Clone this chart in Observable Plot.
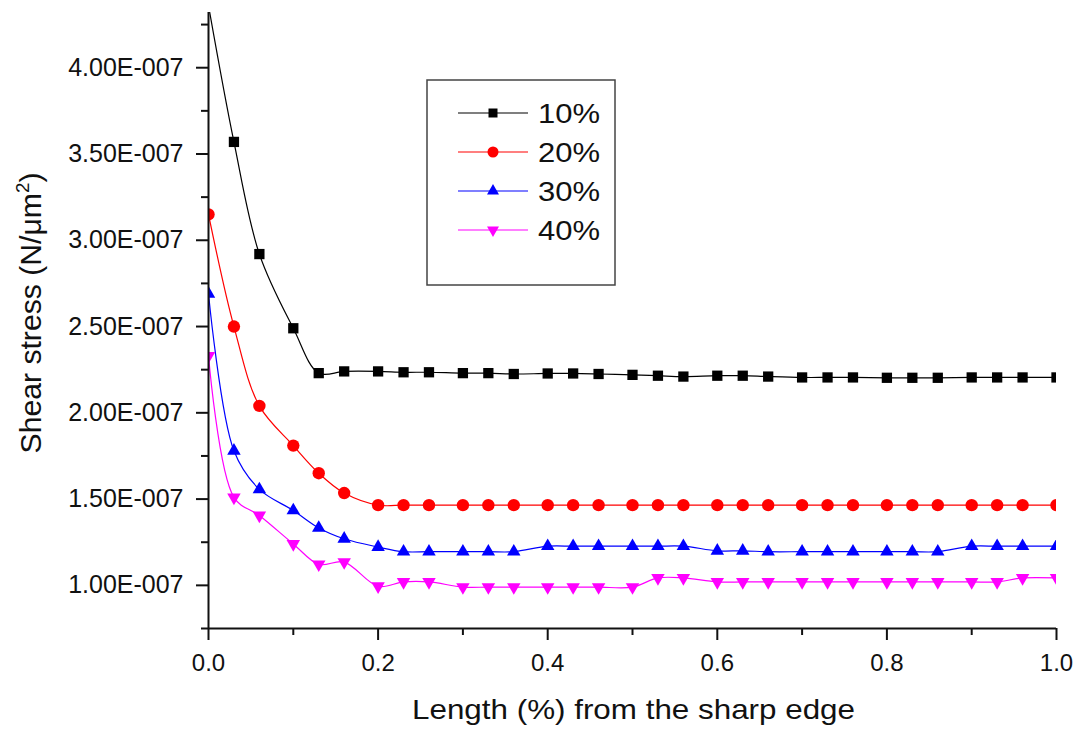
<!DOCTYPE html>
<html><head><meta charset="utf-8">
<script src="https://cdn.jsdelivr.net/npm/d3@7"></script>
<script src="https://cdn.jsdelivr.net/npm/@observablehq/plot@0.6"></script>
<style>
body{margin:0;background:#fff;}
#chart{width:1080px;height:732px;}
</style>
</head><body><div id="chart"></div>
<script>
// Length (% of edge) sampled positions
const lengths = [0, 0.03, 0.06, 0.1, 0.13, 0.16, 0.2, 0.23, 0.26, 0.3, 0.33, 0.36, 0.4, 0.43, 0.46, 0.5, 0.53, 0.56, 0.6, 0.63, 0.66, 0.7, 0.73, 0.76, 0.8, 0.83, 0.86, 0.9, 0.93, 0.96, 1.0];
// Shear stress values in units of 1E-007 N/um^2
const s10 = [4.36, 3.57, 2.92, 2.49, 2.23, 2.24, 2.24, 2.235, 2.235, 2.23, 2.23, 2.225, 2.228, 2.228, 2.225, 2.22, 2.215, 2.21, 2.215, 2.215, 2.21, 2.205, 2.205, 2.205, 2.203, 2.203, 2.203, 2.205, 2.205, 2.205, 2.205];
const s20 = [3.15, 2.50, 2.04, 1.81, 1.65, 1.535, 1.465, 1.465, 1.465, 1.465, 1.465, 1.465, 1.465, 1.465, 1.465, 1.465, 1.465, 1.465, 1.465, 1.465, 1.465, 1.465, 1.465, 1.465, 1.465, 1.465, 1.465, 1.465, 1.465, 1.465, 1.465];
const s30 = [2.69, 1.78, 1.556, 1.434, 1.333, 1.27, 1.222, 1.195, 1.195, 1.195, 1.195, 1.195, 1.227, 1.227, 1.227, 1.227, 1.227, 1.227, 1.20, 1.20, 1.195, 1.195, 1.195, 1.195, 1.195, 1.195, 1.195, 1.227, 1.227, 1.227, 1.227];
const s40 = [2.33, 1.51, 1.405, 1.24, 1.122, 1.135, 0.995, 1.02, 1.02, 0.99, 0.99, 0.99, 0.99, 0.99, 0.99, 0.99, 1.043, 1.043, 1.02, 1.02, 1.02, 1.02, 1.02, 1.02, 1.02, 1.02, 1.02, 1.02, 1.02, 1.043, 1.043];

const seriesNames = ["10%", "20%", "30%", "40%"];
const seriesColors = ["#000000", "#ff0000", "#0000ff", "#ff00ff"];
const seriesSymbols = ["square", "circle", "triangle", "triangle"];
const seriesRotate = [0, 0, 0, 180];

const yMajorTicks = [1.0, 1.5, 2.0, 2.5, 3.0, 3.5, 4.0];
const yMinorTicks = [0.75, 1.25, 1.75, 2.25, 2.75, 3.25, 3.75, 4.25];
const xMajorTicks = [0, 0.2, 0.4, 0.6, 0.8, 1.0];
const xMinorTicks = [0.1, 0.3, 0.5, 0.7, 0.9];
const unit = 1e-7;

const xTitle = "Length (%) from the sharp edge";

const rows = [];
[s10, s20, s30, s40].forEach((arr, i) => arr.forEach((v, j) => rows.push({series: seriesNames[i], x: lengths[j], y: v * unit})));

const font = "'Liberation Sans', Arial, Helvetica, sans-serif";
const symSize = {square: 5.8, circle: 6.2, triangle: 5};

const marks = [
  Plot.line(rows, {x: "x", y: "y", z: "series", stroke: "series", curve: "catmull-rom", strokeWidth: 1.2, clip: true}),
  ...seriesNames.map((name, i) => Plot.dot(rows.filter(d => d.series === name), {
    x: "x", y: "y", fill: "series", symbol: () => seriesSymbols[i], r: symSize[seriesSymbols[i]],
    rotate: seriesRotate[i], clip: true
  })),
  Plot.axisY({ticks: yMajorTicks.map(v => v * unit), tickSize: 12, tickPadding: 13, strokeWidth: 2,
    tickFormat: d => (d / unit).toFixed(2) + "E-007", fontSize: 25, label: null, fill: "#111"}),
  Plot.axisY({ticks: yMinorTicks.map(v => v * unit), tickSize: 7, strokeWidth: 2, tickFormat: () => "", label: null}),
  Plot.axisX({ticks: xMajorTicks, tickSize: 12, tickPadding: 13, strokeWidth: 2,
    tickFormat: d => d.toFixed(1), fontSize: 24, label: null, fill: "#111"}),
  Plot.axisX({ticks: xMinorTicks, tickSize: 7, strokeWidth: 2, tickFormat: () => "", label: null}),
  Plot.ruleX([0], {strokeWidth: 2}),
  Plot.ruleY([0.75 * unit], {strokeWidth: 2})
];

const plot = Plot.plot({
  width: 1080, height: 732,
  marginLeft: 208, marginRight: 24, marginTop: 12, marginBottom: 104,
  style: {fontFamily: font, background: "#fff", color: "#111"},
  x: {domain: [0, 1]},
  y: {domain: [0.75 * unit, 4.32 * unit]},
  color: {domain: seriesNames, range: seriesColors},
  symbol: {type: "identity"},
  marks
});
document.getElementById("chart").appendChild(plot);

const svg = d3.select(plot);
// Axis titles
svg.append("text")
  .attr("x", 633.5).attr("y", 719)
  .attr("text-anchor", "middle")
  .attr("font-family", font).attr("font-size", 28).attr("fill", "#111")
  .attr("textLength", 443).attr("lengthAdjust", "spacingAndGlyphs")
  .text(xTitle);
const yt = svg.append("text")
  .attr("transform", "translate(41,313) rotate(-90)")
  .attr("text-anchor", "middle")
  .attr("font-family", font).attr("font-size", 29).attr("fill", "#111")
  .attr("textLength", 281).attr("lengthAdjust", "spacingAndGlyphs");
yt.append("tspan").text("Shear stress (N/\u03bcm");
yt.append("tspan").attr("dy", -12).attr("font-size", 18).text("2");
yt.append("tspan").attr("dy", 12).text(")");

// Legend
const lg = svg.append("g");
lg.append("rect").attr("x", 427).attr("y", 80).attr("width", 188).attr("height", 205)
  .attr("fill", "#fff").attr("stroke", "#444").attr("stroke-width", 1.5);
const legSym = {square: d3.symbolSquare, circle: d3.symbolCircle, triangle: d3.symbolTriangle};
const legSize = {square: 81, circle: 95, triangle: 62};
seriesNames.forEach((name, i) => {
  const cy = 113 + 39 * i;
  lg.append("line").attr("x1", 458).attr("x2", 528).attr("y1", cy).attr("y2", cy)
    .attr("stroke", seriesColors[i]).attr("stroke-width", 1.2);
  lg.append("path")
    .attr("d", d3.symbol(legSym[seriesSymbols[i]], legSize[seriesSymbols[i]])())
    .attr("transform", `translate(493,${cy}) rotate(${seriesRotate[i]})`)
    .attr("fill", seriesColors[i]);
  lg.append("text").attr("x", 538).attr("y", cy + 10)
    .attr("text-anchor", "start")
    .attr("font-family", font).attr("font-size", 28).attr("fill", "#111")
    .attr("textLength", 62).attr("lengthAdjust", "spacingAndGlyphs")
    .text(name);
});
</script>
</body></html>
